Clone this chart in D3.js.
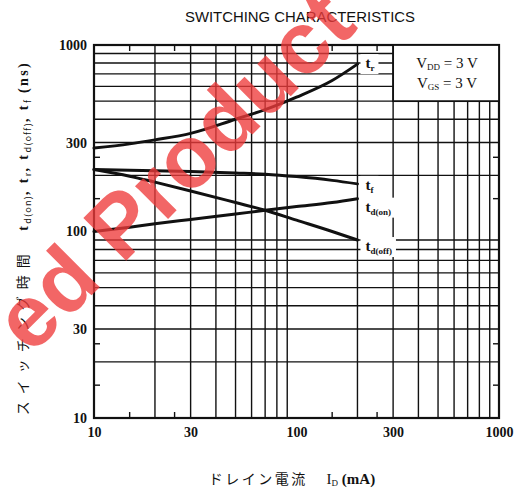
<!DOCTYPE html>
<html>
<head>
<meta charset="utf-8">
<script src="https://cdn.jsdelivr.net/npm/d3@7"></script>
<style>
  html, body { margin: 0; padding: 0; background: #fff; }
  svg { display: block; }
</style>
</head>
<body>
<svg id="chart" width="515" height="490"></svg>
<script>
// ---------- data ----------
const currents = [10, 15, 20, 30, 50, 70, 100, 150, 200];          // I_D (mA)
const tr    = [280, 295, 310, 336, 400, 450, 525, 645, 790];        // t_r (ns)
const tf    = [215, 213, 212, 210, 206, 203, 197, 188, 180];        // t_f (ns)
const tdon  = [100, 105.5, 110, 116, 124, 130, 136, 143, 150];      // t_d(on) (ns)
const tdoff = [215, 198, 184, 165, 143, 130, 115, 100, 90];         // t_d(off) (ns)

const xTickLabels = [10, 30, 100, 300, 1000];
const yTickLabels = [10, 30, 100, 300, 1000];
const gridValues  = [20, 30, 40, 50, 60, 70, 80, 90, 200, 300, 400, 500, 600, 700, 800, 900];
const minorTicks  = [15, 25, 150, 250];

const titleText = "SWITCHING CHARACTERISTICS";
const legendLines = [["V", "DD", " = 3 V"], ["V", "GS", " = 3 V"]];

// ---------- layout ----------
const svg = d3.select("#chart");
const L = 94, R = 499, T = 45, B = 418;
const x = d3.scaleLog().domain([10, 1000]).range([L, R]);
const y = d3.scaleLog().domain([10, 1000]).range([B, T]);
const ink = "#111";

// title
svg.append("text")
  .attr("x", 300).attr("y", 22)
  .attr("text-anchor", "middle")
  .attr("font-family", "Liberation Sans, Arial, sans-serif")
  .attr("font-size", 15)
  .attr("textLength", 230).attr("lengthAdjust", "spacingAndGlyphs")
  .attr("fill", ink)
  .text(titleText);

// grid
const grid = svg.append("g").attr("stroke", ink).attr("stroke-width", 1.4);
grid.selectAll("line.v").data(gridValues).join("line")
  .attr("x1", d => x(d)).attr("x2", d => x(d))
  .attr("y1", T).attr("y2", B);
grid.selectAll("line.h").data(gridValues).join("line")
  .attr("class", "h")
  .attr("y1", d => y(d)).attr("y2", d => y(d))
  .attr("x1", L).attr("x2", R);

// minor ticks (inward on all four sides)
const tk = 6;
const ticks = svg.append("g").attr("stroke", ink).attr("stroke-width", 1.4);
minorTicks.forEach(v => {
  ticks.append("line").attr("x1", x(v)).attr("x2", x(v)).attr("y1", B).attr("y2", B - tk);
  ticks.append("line").attr("x1", x(v)).attr("x2", x(v)).attr("y1", T).attr("y2", T + tk);
  ticks.append("line").attr("y1", y(v)).attr("y2", y(v)).attr("x1", L).attr("x2", L + tk);
  ticks.append("line").attr("y1", y(v)).attr("y2", y(v)).attr("x1", R).attr("x2", R - tk);
});

// frame
svg.append("rect")
  .attr("x", L).attr("y", T).attr("width", R - L).attr("height", B - T)
  .attr("fill", "none").attr("stroke", ink).attr("stroke-width", 2.2);

// axes tick labels
const fmt = d3.format("d");
const xAxis = svg.append("g").attr("transform", `translate(0,${B})`)
  .call(d3.axisBottom(x).tickValues(xTickLabels).tickFormat(fmt).tickSize(0).tickPadding(9));
const yAxis = svg.append("g").attr("transform", `translate(${L},0)`)
  .call(d3.axisLeft(y).tickValues(yTickLabels).tickFormat(fmt).tickSize(0).tickPadding(7));
[xAxis, yAxis].forEach(a => {
  a.select(".domain").remove();
  a.selectAll("text")
    .attr("font-family", "Liberation Serif, Times New Roman, serif")
    .attr("font-size", 14)
    .attr("font-weight", "bold")
    .attr("fill", ink);
});

// legend box (covers the grid)
const boxX = x(300), boxY = T, boxW = R - x(300), boxH = y(500) - T;
svg.append("rect")
  .attr("x", boxX).attr("y", boxY).attr("width", boxW).attr("height", boxH)
  .attr("fill", "#fff").attr("stroke", ink).attr("stroke-width", 1.8);
legendLines.forEach((ln, i) => {
  const t = svg.append("text")
    .attr("x", boxX + boxW / 2 + 1).attr("y", 68 + i * 20)
    .attr("text-anchor", "middle")
    .attr("font-family", "Liberation Serif, Times New Roman, serif")
    .attr("font-size", 15)
    .attr("fill", ink);
  t.append("tspan").text(ln[0]);
  t.append("tspan").attr("font-size", 9).attr("dy", 2).text(ln[1]);
  t.append("tspan").attr("dy", -2).text(ln[2]);
});

// curves
const series = [
  { name: "r",      values: tr,    dy: 4 },
  { name: "f",      values: tf,    dy: 6 },
  { name: "d(on)",  values: tdon,  dy: 13 },
  { name: "d(off)", values: tdoff, dy: 11 }
];
const line = d3.line()
  .x(d => x(d[0])).y(d => y(d[1]))
  .curve(d3.curveMonotoneX);

// labels with white backgrounds (drawn before curves so the curves stay on top)
const labelG = svg.append("g");
const curveG = svg.append("g");
series.forEach(s => {
  const lastI = currents.length - 1;
  const lx = x(currents[lastI]) + 8;
  const ly = y(s.values[lastI]) + s.dy;
  const t = labelG.append("text")
    .attr("x", lx).attr("y", ly)
    .attr("font-family", "Liberation Serif, Times New Roman, serif")
    .attr("font-size", 15).attr("font-weight", "bold")
    .attr("fill", ink);
  t.append("tspan").text("t");
  t.append("tspan").attr("font-size", 9).attr("dy", 3).text(s.name);
  const bb = t.node().getBBox();
  labelG.insert("rect", "text")
    .attr("x", bb.x - 5).attr("y", bb.y - 1)
    .attr("width", bb.width + 9).attr("height", bb.height + 2)
    .attr("fill", "#fff");
  curveG.append("path")
    .datum(currents.map((c, i) => [c, s.values[i]]))
    .attr("d", line)
    .attr("fill", "none").attr("stroke", ink)
    .attr("stroke-width", 3).attr("stroke-linecap", "round");
});

// y axis title (rotated)
const yt = svg.append("text")
  .attr("transform", "translate(28,238) rotate(-90)")
  .attr("text-anchor", "middle")
  .attr("font-family", "Noto Sans CJK JP, sans-serif")
  .attr("font-size", 14)
  .attr("fill", ink);
const ytParts = [["スイッチング時間", "jp"], ["　t", null], ["d(on)", "sub"], [",  t", null], ["r", "sub"],
                 [",  t", null], ["d(off)", "sub"], [",  t", null], ["f", "sub"], ["  (ns)", null]];
let shifted = false;
ytParts.forEach(p => {
  const ts = yt.append("tspan").text(p[0]);
  if (p[1] === "jp") ts.attr("letter-spacing", 7);
  else if (p[1] === "sub") { ts.attr("font-size", 9).attr("letter-spacing", 1.2).attr("dy", 3); shifted = true; }
  else {
    ts.attr("font-family", "Liberation Serif, serif").attr("font-weight", "bold").attr("letter-spacing", 2.4);
    if (shifted) { ts.attr("dy", -3); shifted = false; }
  }
});

// x axis title
const xt = svg.append("text")
  .attr("x", 292).attr("y", 484)
  .attr("text-anchor", "middle")
  .attr("font-family", "Noto Sans CJK JP, sans-serif")
  .attr("font-size", 14)
  .attr("fill", ink);
xt.append("tspan").attr("letter-spacing", 2.5).text("ドレイン電流");
xt.append("tspan").attr("font-family", "Liberation Serif, serif").attr("font-size", 15).text("　 I");
xt.append("tspan").attr("font-family", "Liberation Serif, serif").attr("font-size", 9).attr("dy", 2).text("D");
xt.append("tspan").attr("font-family", "Liberation Serif, serif").attr("font-size", 15).attr("font-weight", "bold").attr("dy", -2).text("  (mA)");

// watermark
svg.append("text")
  .attr("transform", "translate(31,356) rotate(-45)")
  .attr("font-family", "Liberation Sans, Arial, sans-serif")
  .attr("font-weight", "bold")
  .attr("font-size", 88)
  .attr("letter-spacing", 0.5)
  .attr("fill", "#ee3b3b")
  .attr("fill-opacity", 0.78)
  .text("ed Product");
</script>
</body>
</html>
